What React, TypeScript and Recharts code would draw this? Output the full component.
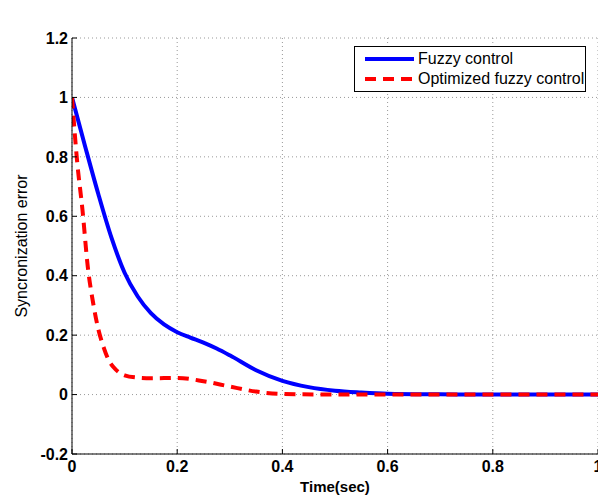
import { CartesianGrid, Legend, Line, LineChart, XAxis, YAxis } from 'recharts';

// values
const fuzzyTime = [0, 0.025, 0.05, 0.075, 0.1, 0.125, 0.15, 0.175, 0.2, 0.225, 0.25, 0.275, 0.3, 0.35, 0.4, 0.45, 0.5, 0.55, 0.6, 0.7, 0.8, 0.9, 1];
const fuzzyErr = [1, 0.835, 0.675, 0.528, 0.41, 0.33, 0.274, 0.236, 0.21, 0.192, 0.175, 0.155, 0.132, 0.082, 0.046, 0.025, 0.013, 0.007, 0.003, 0.001, 0, 0, 0];

const optTime = [0, 0.01, 0.02, 0.03, 0.04, 0.05, 0.06, 0.07, 0.08, 0.1, 0.125, 0.15, 0.2, 0.25, 0.3, 0.35, 0.4, 0.5, 0.6, 0.8, 1];
const optErr = [1, 0.78, 0.62, 0.43, 0.31, 0.22, 0.16, 0.115, 0.09, 0.065, 0.057, 0.055, 0.056, 0.045, 0.027, 0.01, 0.002, 0, 0, 0, 0];

const xTicks = [0, 0.2, 0.4, 0.6, 0.8, 1];
const yTicks = [-0.2, 0, 0.2, 0.4, 0.6, 0.8, 1, 1.2];

const fuzzy = fuzzyTime.map((t, i) => ({ t, e: fuzzyErr[i] }));
const optimized = optTime.map((t, i) => ({ t, e: optErr[i] }));

const BLUE = '#0000ff';
const RED = '#ff0000';
const FONT = '"Liberation Sans", Arial, sans-serif';

function LegendBox({ payload }: any) {
  return (
    <div
      style={{
        width: 232,
        height: 46,
        border: '1px solid #000',
        background: '#fff',
        boxSizing: 'border-box',
        fontFamily: FONT,
        fontSize: 16,
        color: '#000',
        paddingTop: 2,
        textAlign: 'left',
      }}
    >
      {(payload || []).map((p: any) => (
        <div key={p.value} style={{ display: 'flex', alignItems: 'center', height: 20, whiteSpace: 'nowrap' }}>
          <svg width={63} height={20} style={{ flexShrink: 0 }}>
            <line
              x1={10}
              x2={59}
              y1={10}
              y2={10}
              stroke={p.color}
              strokeWidth={4}
              strokeDasharray={p.value.startsWith('Opt') ? '11 7' : undefined}
            />
          </svg>
          <span>{p.value}</span>
        </div>
      ))}
    </div>
  );
}

export default function App() {
  return (
    <div style={{ position: 'absolute', left: 0, top: 0, width: 598, height: 497, overflow: 'hidden', background: '#fff' }}>
      <LineChart width={610} height={497} margin={{ top: 38, right: 12, bottom: 0, left: 0 }}>
        <CartesianGrid stroke="#999" strokeDasharray="1 3" />
        <XAxis
          dataKey="t"
          type="number"
          domain={[0, 1]}
          ticks={xTicks}
          allowDataOverflow
          height={43}
          stroke="#000"
          tickSize={-5}
          tickMargin={12}
          tick={{ fill: '#000', fontSize: 16, fontWeight: 'bold', fontFamily: FONT }}
          tickFormatter={(v: number) => String(v)}
          label={({ viewBox }: any) => (
            <text x={viewBox.x + viewBox.width / 2} y={492} textAnchor="middle" fontFamily={FONT} fontSize={15} fontWeight="bold" fill="#000">
              Time(sec)
            </text>
          )}
        />
        <XAxis
          xAxisId="top"
          orientation="top"
          dataKey="t"
          type="number"
          domain={[0, 1]}
          ticks={xTicks}
          height={0}
          stroke="#000"
          tickSize={-5}
          tick={false}
          label={({ viewBox }: any) => (
            <text x={viewBox.x + viewBox.width / 2} y={20} textAnchor="middle" fontFamily={FONT} fontSize={15} fontWeight="bold" fill="#000">
              e<tspan dy={5} fontSize={11}>2</tspan>
            </text>
          )}
        />
        <YAxis
          type="number"
          domain={[-0.2, 1.2]}
          ticks={yTicks}
          allowDataOverflow
          width={72}
          stroke="#000"
          tickSize={-5}
          tickMargin={9}
          tick={{ fill: '#000', fontSize: 16, fontWeight: 'bold', fontFamily: FONT }}
          tickFormatter={(v: number) => String(Math.round(v * 10) / 10)}
          label={({ viewBox }: any) => {
            const cx = 21;
            const cy = viewBox.y + viewBox.height / 2;
            return (
              <text x={cx} y={cy} transform={`rotate(-90 ${cx} ${cy})`} textAnchor="middle" dominantBaseline="central" fontFamily={FONT} fontSize={16} fill="#000">
                Syncronization error
              </text>
            );
          }}
        />
        <YAxis
          yAxisId="right"
          orientation="right"
          type="number"
          domain={[-0.2, 1.2]}
          ticks={yTicks}
          width={0}
          stroke="#000"
          tickSize={-5}
          tick={false}
        />
        <Legend
          layout="horizontal"
          verticalAlign="middle"
          align="center"
          wrapperStyle={{ position: 'absolute', left: 354, top: 46, width: 232 }}
          content={LegendBox}
        />
        <Line
          data={fuzzy}
          dataKey="e"
          name="Fuzzy control"
          type="monotone"
          stroke={BLUE}
          strokeWidth={4}
          dot={false}
          activeDot={false}
          isAnimationActive={false}
        />
        <Line
          data={optimized}
          dataKey="e"
          name="Optimized fuzzy control"
          type="monotone"
          stroke={RED}
          strokeWidth={4}
          strokeDasharray="11 7"
          dot={false}
          activeDot={false}
          isAnimationActive={false}
        />
      </LineChart>
    </div>
  );
}
